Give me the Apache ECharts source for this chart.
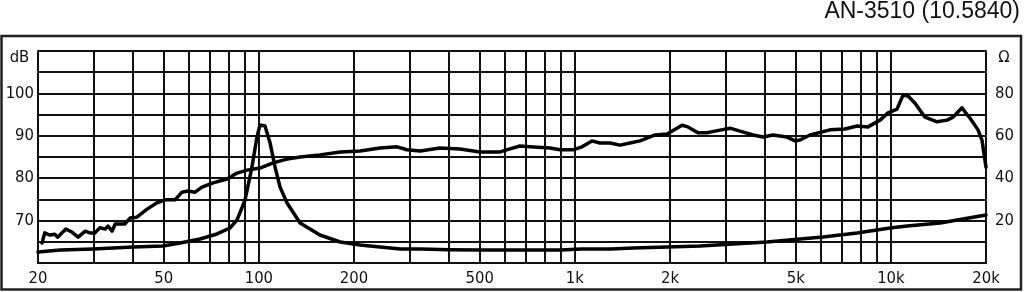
<!DOCTYPE html>
<html>
<head>
<meta charset="utf-8">
<script src="https://cdn.jsdelivr.net/npm/echarts@6/dist/echarts.min.js"></script>
<style>
html,body{margin:0;padding:0;background:#fff;}
#chart{width:1024px;height:292px;}
</style>
</head>
<body>
<div id="chart"></div>
<script>
// ---- data ----
const title = 'AN-3510 (10.5840)';
const xLabelValues = [20, 50, 100, 200, 500, 1000, 2000, 5000, 10000, 20000];
const xGridValues = [20,30,40,50,60,70,80,90,100,200,300,400,500,600,700,800,900,1000,2000,3000,4000,5000,6000,7000,8000,9000,10000,20000];
const dbLabels = [70, 80, 90, 100];
const ohmLabels = [20, 40, 60, 80];

const splFreq = [20.6,21.0,21.8,22.6,23.1,24.5,25.6,26.8,28.2,29.2,30.3,31.4,32.6,33.3,34.3,35.1,37.7,39.1,41.1,44.3,47.6,50.5,54.3,57.1,59.7,62.8,66.1,71.6,79.3,85.3,91.7,100.8,110.9,122.8,135,156,181,209,242,274,294,324,374,433,501,580,623,670,721,834,897,986,1054,1132,1200,1292,1390,1494,1607,1794,1958,2182,2280,2452,2618,2777,3098,3332,3664,3939,4236,4690,4976,5156,5546,6416,7158,7816,8468,9238,9796,10458,10926,11328,11926,12824,13996,15064,15734,16790,17170,17792,18872,19420,20000];
const splDb = [64.7,67.1,66.6,66.8,66.1,68.0,67.3,66.1,67.5,67.1,67.1,68.3,68.0,68.7,67.5,69.2,69.2,70.6,70.8,72.7,74.2,74.9,74.9,76.7,77.0,76.7,77.9,78.9,79.8,81.2,81.9,82.4,83.6,84.5,85.0,85.5,86.2,86.4,87.1,87.4,86.7,86.4,87.1,86.9,86.2,86.2,86.9,87.6,87.4,87.1,86.7,86.7,87.4,88.8,88.3,88.3,87.8,88.3,88.8,90.2,90.4,92.5,92.1,90.7,90.7,91.1,91.8,91.1,90.2,89.7,90.2,89.7,88.8,89.0,90.2,91.4,91.6,92.3,92.1,93.7,95.4,96.3,99.6,99.4,97.7,94.4,93.3,93.7,94.4,96.6,95.6,94.2,91.4,89.0,82.6];

const impFreq = [20,23.5,29.9,40,49.7,56.3,65.1,73.7,81,85.3,90.4,95.1,98.6,100.8,104.6,108.5,112.5,116.7,122.8,135,156,181,209,242,280,324,400,500,700,900,1050,1300,1528,1958,2490,3164,4056,5156,6096,7816,9934,11246,14304,16914,20000];
const impOhm = [5.2,6.1,6.6,7.5,8.0,9.4,11.3,13.7,16.5,20.3,29.7,45.3,59.4,65.1,64.6,56.6,45.3,35.8,28.3,18.9,13.2,9.9,8.5,7.5,6.6,6.6,6.3,6.1,6.1,6.1,6.6,6.6,7.1,7.5,8.0,9.0,9.9,11.3,12.3,14.2,16.5,17.5,18.9,20.8,22.6];

// ---- chart ----
const ink = '#111';
const font = '"DejaVu Sans Condensed", "DejaVu Sans", sans-serif';
function fmtFreq(v){
  if (v >= 1000) return (v/1000) + 'k';
  return String(v);
}
const chart = echarts.init(document.getElementById('chart'), null, {renderer:'canvas'});
chart.setOption({
  backgroundColor: '#fff',
  animation: false,
  grid: {left: 38, right: 38, top: 51, bottom: 29, containLabel: false},
  xAxis: {
    type: 'log', logBase: 10, min: 20, max: 20000,
    axisLine: {show: true, lineStyle: {color: ink, width: 2}},
    axisTick: {show: false, customValues: xGridValues},
    splitLine: {show: true, lineStyle: {color: ink, width: 2}},
    minorSplitLine: {show: false},
    axisLabel: {
      customValues: xLabelValues,
      formatter: fmtFreq,
      color: ink, fontFamily: font, fontSize: 16.5, margin: 7,
      showMinLabel: true, showMaxLabel: true
    }
  },
  yAxis: [{
    type: 'value', min: 60, max: 110, interval: 5, position: 'left',
    axisLine: {show: true, lineStyle: {color: ink, width: 2}},
    axisTick: {show: false},
    splitLine: {show: true, lineStyle: {color: ink, width: 2}},
    axisLabel: {
      formatter: v => dbLabels.includes(v) ? String(v) : '',
      color: ink, fontFamily: font, fontSize: 16.5, margin: 4
    }
  }, {
    type: 'value', min: 0, max: 100, interval: 10, position: 'right',
    axisLine: {show: true, lineStyle: {color: ink, width: 2}},
    axisTick: {show: false},
    splitLine: {show: false},
    axisLabel: {
      formatter: v => ohmLabels.includes(v) ? String(v) : '',
      color: ink, fontFamily: font, fontSize: 16.5, margin: 9
    }
  }],
  series: [{
    name: 'SPL', type: 'line', yAxisIndex: 0, showSymbol: false, symbol: 'none',
    data: splFreq.map((f, i) => [f, splDb[i]]),
    lineStyle: {color: '#000', width: 3.5, join: 'round', cap: 'round'}
  }, {
    name: 'Impedance', type: 'line', yAxisIndex: 1, showSymbol: false, symbol: 'none',
    data: impFreq.map((f, i) => [f, impOhm[i]]),
    lineStyle: {color: '#000', width: 3.5, join: 'round', cap: 'round'}
  }],
  graphic: [
    {type: 'rect', silent: true, z: 0,
     shape: {x: 1.5, y: 36, width: 1019.5, height: 253.5},
     style: {fill: 'none', stroke: '#222', lineWidth: 2.5}},
    {type: 'text', x: 1020, y: 11.5,
     style: {text: title, fontFamily: 'Liberation Sans', fontSize: 23, fill: '#111', align: 'right', verticalAlign: 'middle'}},
    {type: 'text', x: 19.5, y: 57.5,
     style: {text: 'dB', fontFamily: font, fontSize: 16.5, fill: ink, align: 'center', verticalAlign: 'middle'}},
    {type: 'text', x: 1004, y: 57.5,
     style: {text: 'Ω', fontFamily: font, fontSize: 16.5, fill: ink, align: 'center', verticalAlign: 'middle'}}
  ]
});
</script>
</body>
</html>
